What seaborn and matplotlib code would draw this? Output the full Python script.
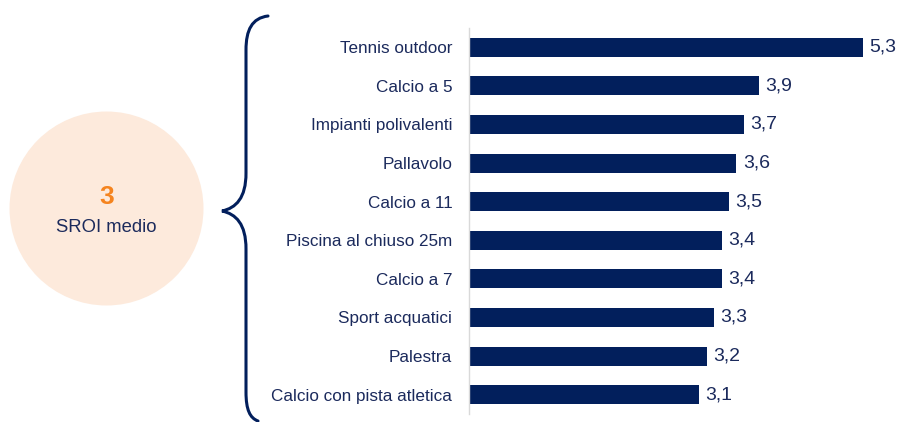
import matplotlib
matplotlib.use("Agg")
import matplotlib.pyplot as plt
from matplotlib.path import Path
from matplotlib.patches import PathPatch, Circle
import seaborn as sns
import pandas as pd

categories = ["Tennis outdoor", "Calcio a 5", "Impianti polivalenti", "Pallavolo",
              "Calcio a 11", "Piscina al chiuso 25m", "Calcio a 7", "Sport acquatici",
              "Palestra", "Calcio con pista atletica"]
values = [5.3, 3.9, 3.7, 3.6, 3.5, 3.4, 3.4, 3.3, 3.2, 3.1]
value_labels = ["5,3", "3,9", "3,7", "3,6", "3,5", "3,4", "3,4", "3,3", "3,2", "3,1"]
avg_value = "3"
avg_label = "SROI medio"

NAVY = "#021F5C"
TEXT = "#1B2A5C"
ORANGE = "#F5841F"
PEACH = "#FDEADC"

sns.set_theme(style="white")
plt.rcParams["font.family"] = ["Liberation Sans Narrow", "Liberation Sans", "DejaVu Sans"]

W, H = 898, 422
fig = plt.figure(figsize=(W / 100, H / 100), dpi=100)

# background overlay for circle and brace (pixel coords)
bg = fig.add_axes([0, 0, 1, 1])
bg.set_xlim(0, W)
bg.set_ylim(H, 0)
bg.axis("off")
bg.add_patch(Circle((106.5, 208.5), 97, facecolor=PEACH, edgecolor="none"))
bg.text(106.5, 197, avg_value, color=ORANGE, fontsize=19, fontweight="bold",
        ha="center", va="center")
bg.text(106.5, 228, avg_label, color=TEXT, fontsize=13.3, ha="center", va="center")

verts = [(268, 16),
         (252, 18), (246, 30), (246, 50),
         (246, 173),
         (246, 198), (236, 208), (222, 211),
         (236, 214), (246, 224), (246, 249),
         (246, 392),
         (246, 410), (250, 418), (258, 421)]
codes = [Path.MOVETO,
         Path.CURVE4, Path.CURVE4, Path.CURVE4,
         Path.LINETO,
         Path.CURVE4, Path.CURVE4, Path.CURVE4,
         Path.CURVE4, Path.CURVE4, Path.CURVE4,
         Path.LINETO,
         Path.CURVE4, Path.CURVE4, Path.CURVE4]
bg.add_patch(PathPatch(Path(verts, codes), facecolor="none", edgecolor=NAVY, lw=2.2,
                       capstyle="round"))

# bar chart axes
x0, x1 = 469, 469 + 5.5 * 74.3
ytop, ybot = 28, 414
ax = fig.add_axes([x0 / W, 1 - ybot / H, (x1 - x0) / W, (ybot - ytop) / H])
df = pd.DataFrame({"cat": categories, "val": values})
sns.barplot(data=df, y="cat", x="val", orient="h", color=NAVY, width=0.49,
            saturation=1, ax=ax, edgecolor="none")
ax.set_xlim(0, 5.5)
ax.set_ylim(9.5, -0.5)
ax.set_xlabel("")
ax.set_ylabel("")
ax.set_xticks([])
for s in ["top", "right", "bottom"]:
    ax.spines[s].set_visible(False)
ax.spines["left"].set_color("#D9D9D9")
ax.spines["left"].set_linewidth(1)
ax.tick_params(axis="y", length=0, pad=12, labelsize=12.3, labelcolor=TEXT)
ax.patch.set_alpha(0)
for i, (v, lab) in enumerate(zip(values, value_labels)):
    ax.annotate(lab, (v, i), xytext=(4.5, 0), textcoords="offset points",
                va="center", ha="left", fontsize=14, color=TEXT)

fig.savefig("out.png", dpi=100)
